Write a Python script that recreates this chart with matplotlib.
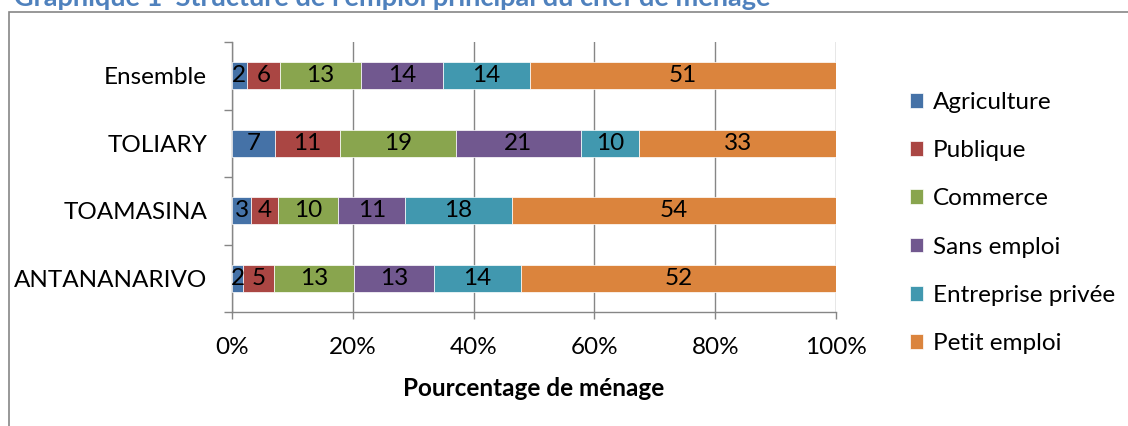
import matplotlib.pyplot as plt
import numpy as np
from matplotlib.patches import Rectangle

# Data (top to bottom)
regions = ['Ensemble', 'TOLIARY', 'TOAMASINA', 'ANTANANARIVO']
categories = ['Agriculture', 'Publique', 'Commerce', 'Sans emploi',
              'Entreprise privée', 'Petit emploi']
agriculture = [2.4, 7.2, 3.2, 1.8]
publique = [5.6, 10.7, 4.4, 5.2]
commerce = [13.3, 19.2, 10.0, 13.1]
sans_emploi = [13.6, 20.8, 11.1, 13.3]
entreprise = [14.4, 9.7, 17.6, 14.4]
petit_emploi = [50.6, 32.6, 53.7, 52.1]
x_ticks = [0, 20, 40, 60, 80, 100]
x_tick_labels = ['0%', '20%', '40%', '60%', '80%', '100%']

colors = ['#4572A7', '#AA4643', '#89A54E', '#71588F', '#4198AF', '#DB843D']
grey = '#868686'

plt.rcParams['font.family'] = ['Lato', 'DejaVu Sans']
fs = 17.5

fig = plt.figure(figsize=(11.28, 4.26), dpi=100)
ax = fig.add_axes([232 / 1128, 1 - 312 / 426, (836 - 232) / 1128, (312 - 42) / 426])

series = np.array([agriculture, publique, commerce, sans_emploi, entreprise, petit_emploi])
totals = series.sum(axis=0)
y = np.arange(len(regions))
left = np.zeros(len(regions))
for vals, name, col in zip(series, categories, colors):
    widths = vals / totals * 100
    ax.barh(y, widths, left=left, height=0.4, color=col, edgecolor='white',
            linewidth=0.5, label=name, zorder=3)
    for yi, l, w, v in zip(y, left, widths, vals):
        ax.text(l + w / 2, yi, '%.0f' % v, ha='center', va='center',
                fontsize=fs, color='black', zorder=4)
    left += widths

ax.set_xlim(0, 100)
ax.set_ylim(len(regions) - 0.5, -0.5)
ax.set_xticks(x_ticks)
ax.set_xticklabels(x_tick_labels, fontsize=fs)
ax.set_yticks(np.arange(-0.5, len(regions)))
ax.set_yticklabels([])
ax.set_yticks(y, minor=True)
ax.set_yticklabels(regions, minor=True, fontsize=fs)
ax.tick_params(axis='y', which='major', length=6, color=grey, width=1)
ax.tick_params(axis='y', which='minor', length=0, pad=18)
ax.tick_params(axis='x', length=5, color=grey, width=1, pad=13)
ax.grid(axis='x', color=grey, linewidth=1.0, zorder=0)
ax.set_axisbelow(True)
for s in ['top', 'right']:
    ax.spines[s].set_visible(False)
for s in ['left', 'bottom']:
    ax.spines[s].set_color(grey)
    ax.spines[s].set_linewidth(1.0)

ax.set_xlabel('Pourcentage de ménage', fontsize=fs, fontweight='bold', labelpad=14)

ax.legend(loc='center left', bbox_to_anchor=(900 / 1128, 1 - 223 / 426),
          bbox_transform=fig.transFigure, frameon=False, fontsize=fs,
          handlelength=0.55, handleheight=0.55, handletextpad=0.4,
          labelspacing=1.12, borderaxespad=0)

# outer chart frame, partly outside the picture
fig.add_artist(Rectangle((9 / 1128, -0.2), 1.5, 1.2 - 12 / 426, transform=fig.transFigure,
                         fill=False, edgecolor=grey, linewidth=1.2))

# clipped title above the frame
fig.text(14 / 1128, 1 - 6 / 426,
         "Graphique 1  Structure de l'emploi principal du chef de ménage",
         fontsize=19.5, fontweight='bold', color='#4F81BD', ha='left', va='baseline')

fig.savefig('out.png', dpi=100)
